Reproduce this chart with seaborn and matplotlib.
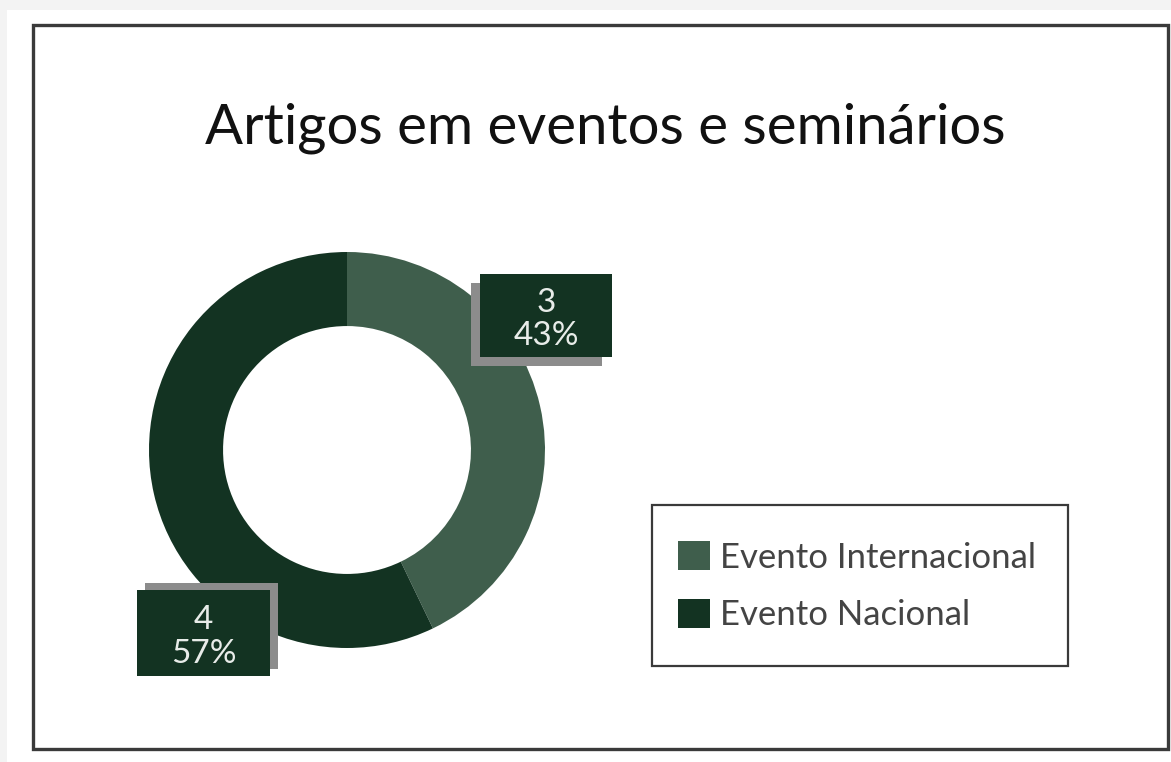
import matplotlib
matplotlib.use("Agg")
import matplotlib.pyplot as plt
from matplotlib.patches import Rectangle, Patch
import seaborn as sns

# Data
categories = ["Evento Internacional", "Evento Nacional"]
counts = [3, 4]
colors_hex = ["#3f5e4c", "#133322"]
title = "Artigos em eventos e seminários"

sns.set_theme(style="white")
plt.rcParams["font.family"] = ["Lato", "DejaVu Sans"]
palette = sns.color_palette(colors_hex)

W, H = 1171, 762
fig = plt.figure(figsize=(W / 100, H / 100), dpi=100, facecolor="#f3f3f3")

def fx(px):
    return px / W

def fy(py):
    return 1 - py / H

# White page and outer frame
fig.patches.append(Rectangle((fx(7), 0), 1 - fx(7), fy(10), transform=fig.transFigure,
                             facecolor="white", edgecolor="none", zorder=-2))
fig.patches.append(Rectangle((fx(33), fy(749)), fx(1168) - fx(33), fy(25) - fy(749),
                             transform=fig.transFigure, facecolor="none",
                             edgecolor="#3a3a3a", linewidth=2.4, zorder=-1))

fig.text(fx(605), fy(143), title, ha="center", va="baseline", fontsize=40.5, color="#111111")

# Donut chart
cx, cy, R = 347, 450, 198
ax = fig.add_axes([fx(cx - R), fy(cy + R), 2 * R / W, 2 * R / H])
ax.set_facecolor("none")
ax.set_zorder(2)
wedges, _ = ax.pie(counts, colors=palette, startangle=90, counterclock=False, radius=1.0,
                   wedgeprops=dict(width=0.374, edgecolor="none"))
ax.set_xlim(-1, 1)
ax.set_ylim(-1, 1)
ax.set_aspect("equal")
ax.axis("off")

total = sum(counts)
# Data label boxes: (box x0, x1, y_top, y_bottom), shadow offset (dx, dy) in data units
label_boxes = [
    ((0.672, 1.338, 0.889, 0.470), (-0.048, -0.046)),
    ((-1.061, -0.389, -0.707, -1.141), (0.042, 0.037)),
]
for val, (box, (dx, dy)) in zip(counts, label_boxes):
    x0, x1, yt, yb = box
    ax.add_patch(Rectangle((x0 + dx, yb + dy), x1 - x0, yt - yb, facecolor="#8c8c8c",
                           edgecolor="none", clip_on=False, zorder=3))
    ax.add_patch(Rectangle((x0, yb), x1 - x0, yt - yb, facecolor="#133322",
                           edgecolor="none", clip_on=False, zorder=4))
    ax.text((x0 + x1) / 2, (yt + yb) / 2 - 0.02, f"{val}\n{val / total * 100:.0f}%",
            ha="center", va="center", fontsize=24, color="#e8ece9",
            linespacing=1.15, zorder=5, clip_on=False)

# Legend with its own frame
fig.patches.append(Rectangle((fx(652), fy(666)), fx(1068) - fx(652), fy(505) - fy(666),
                             transform=fig.transFigure, facecolor="white",
                             edgecolor="#3a3a3a", linewidth=1.6, zorder=1))
handles = [Patch(facecolor=c, edgecolor="none") for c in palette]
leg = fig.legend(handles, categories, loc="upper left",
                 bbox_to_anchor=(fx(678), fy(541)), fontsize=25,
                 frameon=False,
                 handlelength=0.92, handleheight=0.92, handletextpad=0.3,
                 labelspacing=0.72, borderpad=0, borderaxespad=0)
leg.set_zorder(3)
for t in leg.get_texts():
    t.set_color("#444444")

fig.savefig("out.png", dpi=100, facecolor=fig.get_facecolor())
